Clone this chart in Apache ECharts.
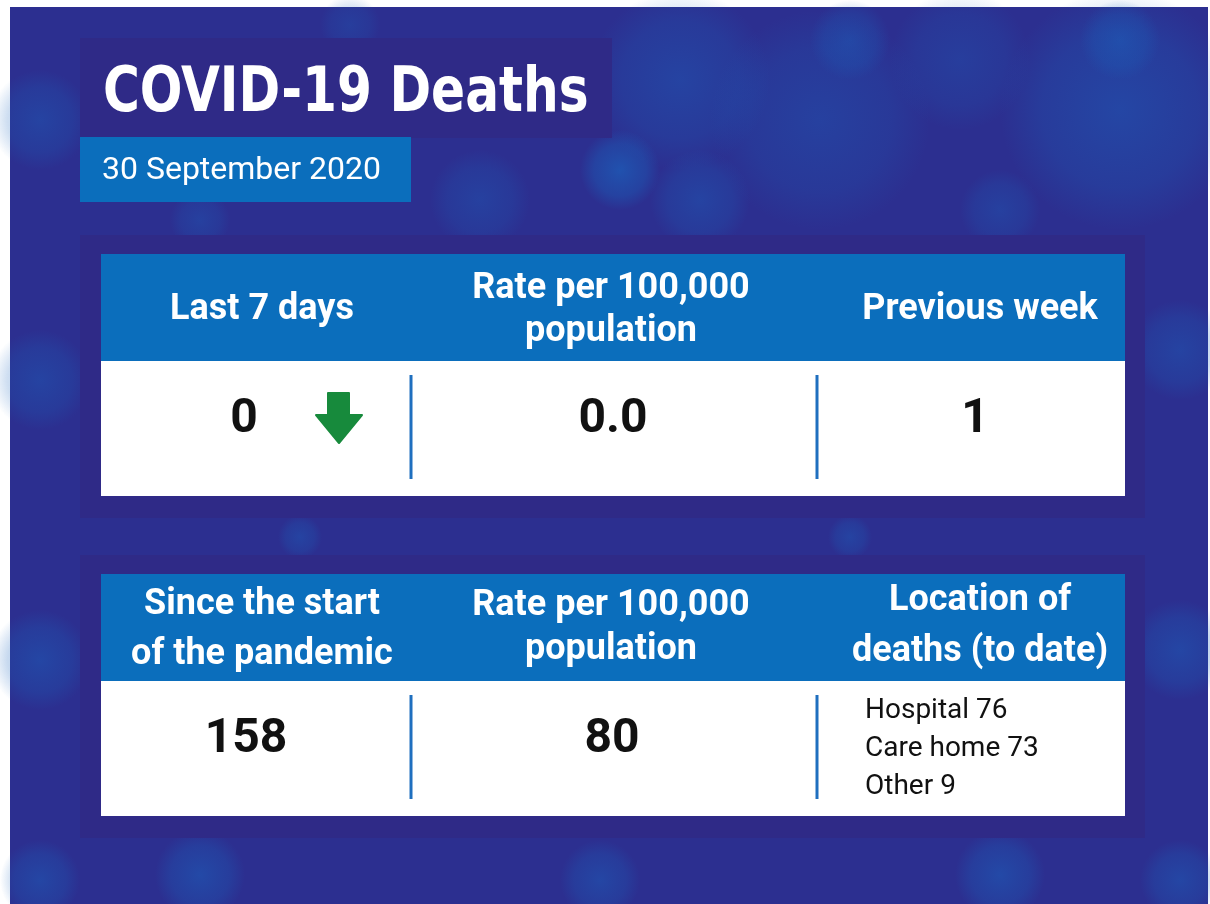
<!DOCTYPE html>
<html><head><meta charset="utf-8">
<script src="https://cdn.jsdelivr.net/npm/echarts@6/dist/echarts.min.js"></script>
<style>html,body{margin:0;padding:0;background:#fff}#c{width:1210px;height:904px}</style>
</head><body><div id="c"></div>
<script>
// ---- content ----
const titleText = 'COVID-19 Deaths';
const dateLabel = '30 September 2020';
const weekHeaders = ['Last 7 days', 'Rate per 100,000\npopulation', 'Previous week'];
const weekValues = ['0', '0.0', '1'];
const weekTrend = 'down';
const totalHeaders = ['Since the start\nof the pandemic', 'Rate per 100,000\npopulation', 'Location of\ndeaths (to date)'];
const totalValues = ['158', '80'];
const locationNames = ['Hospital', 'Care home', 'Other'];
const locationCounts = [76, 73, 9];

// ---- styling / layout ----
const C = {
  bg: '#2c2f90', panel: '#2f2a87', header: '#0b6ebc', divider: '#1f6fbf',
  white: '#ffffff', black: '#111111', green: '#178a3c'
};
const FONT = 'Roboto, "Noto Sans", sans-serif';
const chart = echarts.init(document.getElementById('c'), null, {renderer: 'canvas'});

const g = [];
g.push({type: 'rect', shape: {x: 10, y: 7, width: 1198, height: 897}, style: {fill: C.bg}, z: 0});
// decorative soft texture: [cx, cy, rx, ry, alpha]
const blobs = [
  [680,80,110,90,0.35],[820,120,120,110,0.3],[960,60,110,70,0.25],[1120,110,120,120,0.4],
  [700,200,90,50,0.35],[1000,210,120,40,0.3],[480,200,130,50,0.3],[200,220,150,30,0.3],
  [350,25,200,30,0.25],[40,120,50,120,0.35],[40,380,50,140,0.35],[40,660,50,150,0.4],
  [1180,350,50,150,0.35],[1180,650,50,160,0.4],[300,537,220,22,0.35],[850,537,260,22,0.35],
  [200,875,200,45,0.45],[600,880,220,40,0.4],[1000,875,230,45,0.45],[40,880,60,40,0.4],[1180,880,50,40,0.4],
  [620,170,40,50,0.6],[1120,40,60,40,0.4],[850,40,60,40,0.35]
];
blobs.forEach(b => g.push({type: 'ellipse', z: 1,
  shape: {cx: b[0], cy: b[1], rx: b[2], ry: b[3]},
  style: {fill: new echarts.graphic.RadialGradient(0.5, 0.5, 0.5, [
    {offset: 0, color: 'rgba(25,105,195,' + b[4] + ')'},
    {offset: 0.65, color: 'rgba(25,100,190,' + (b[4] * 0.6) + ')'},
    {offset: 1, color: 'rgba(25,100,190,0)'}])}}));

// title block
g.push({type: 'rect', shape: {x: 80, y: 38, width: 532, height: 100}, style: {fill: C.panel}, z: 2});
g.push({type: 'text', x: 103, y: 95, scaleX: 0.9, originX: 0, originY: 0, z: 5, style: {text: titleText, fill: C.white,
  font: 'bold 62px "DejaVu Sans Condensed", Roboto, sans-serif', textVerticalAlign: 'middle'}});
g.push({type: 'rect', shape: {x: 80, y: 137, width: 331, height: 65}, style: {fill: C.header}, z: 3});
g.push({type: 'text', x: 102, y: 171, z: 5, style: {text: dateLabel, fill: C.white,
  font: '32px ' + FONT, textVerticalAlign: 'middle'}});

const colCenters = [262, 611, 980];
const dividersX = [411, 817];

function panel(top, headers, headerLineH, headerY) {
  g.push({type: 'rect', shape: {x: 80, y: top, width: 1065, height: 283}, style: {fill: C.panel}, z: 2});
  g.push({type: 'rect', shape: {x: 101, y: top + 19, width: 1024, height: 107}, style: {fill: C.header}, z: 3});
  g.push({type: 'rect', shape: {x: 101, y: top + 126, width: 1024, height: 135}, style: {fill: C.white}, z: 3});
  dividersX.forEach(x => g.push({type: 'line', shape: {x1: x, y1: top + 140, x2: x, y2: top + 244},
    style: {stroke: C.divider, lineWidth: 3}, z: 4}));
  headers.forEach((h, i) => g.push({type: 'text', x: colCenters[i], y: top + headerY[i], z: 5,
    style: {text: h, fill: C.white, font: 'bold 36px ' + FONT, lineHeight: headerLineH[i],
      textAlign: 'center', textVerticalAlign: 'middle'}}));
}

// top panel
panel(235, weekHeaders, [44, 43, 44], [75, 75, 75]);
const weekValX = [244, 613, 975];
weekValues.forEach((v, i) => g.push({type: 'text', x: weekValX[i], y: 420, z: 5,
  style: {text: v, fill: C.black, font: 'bold 48px ' + FONT, textAlign: 'center', textVerticalAlign: 'middle'}}));
if (weekTrend === 'down') {
  g.push({type: 'polygon', z: 5, shape: {points: [[328,393],[349,393],[349,415],[362,415],[339,443],[316,415],[328,415]]},
    style: {fill: C.green, lineJoin: 'round', stroke: C.green, lineWidth: 2}});
}

// bottom panel
panel(555, totalHeaders, [50, 44, 51], [75, 73, 71]);
const totalValX = [246, 612];
totalValues.forEach((v, i) => g.push({type: 'text', x: totalValX[i], y: 740, z: 5,
  style: {text: v, fill: C.black, font: 'bold 48px ' + FONT, textAlign: 'center', textVerticalAlign: 'middle'}}));
g.push({type: 'text', x: 865, y: 749, z: 5, style: {
  text: locationNames.map((n, i) => n + ' ' + locationCounts[i]).join('\n'),
  fill: C.black, font: '28px ' + FONT, lineHeight: 38, textVerticalAlign: 'middle'}});

chart.setOption({animation: false, graphic: {elements: g}});
</script></body></html>
